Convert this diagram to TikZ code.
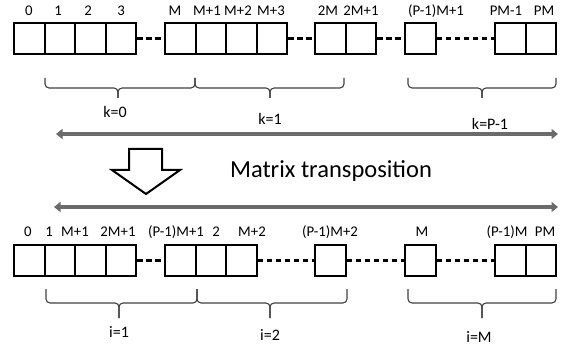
\documentclass[tikz,border=0pt]{standalone}
\usepackage{fontspec}
\setmainfont{Carlito}
\usetikzlibrary{arrows.meta}
\begin{document}
\begin{tikzpicture}[x=1pt,y=-1pt,
  cell/.style={draw,line width=2pt,minimum width=30.5pt,minimum height=31pt,inner sep=0pt},
  lbl/.style={font=\fontsize{14.8}{17}\selectfont,inner sep=0pt},
  klbl/.style={font=\fontsize{16}{18}\selectfont,inner sep=0pt},
  dashline/.style={line width=2.6pt,dash pattern=on 5.5pt off 3.5pt},
  bracestyle/.style={line width=1.1pt,draw=black!75,rounded corners=4pt},
  bigarrow/.style={line width=3.5pt,draw=black!58,{Triangle[length=6.5pt,width=10pt]}-{Triangle[length=6.5pt,width=10pt]}},
  hollow/.style={draw,line width=2pt,fill=white,line join=miter}
]
\useasboundingbox (0,0) rectangle (569,347);

% ---------- top row ----------
\node[cell] (t1) at (29.25,38.5) {};
\node[cell] (t2) at (59.75,38.5) {};
\node[cell] (t3) at (90.25,38.5) {};
\node[cell] (t4) at (120.75,38.5) {};
\node[cell] (t5) at (180.25,38.5) {};
\node[cell] (t6) at (210.75,38.5) {};
\node[cell] (t7) at (241.25,38.5) {};
\node[cell] (t8) at (271.75,38.5) {};
\node[cell] (t9) at (330.25,38.5) {};
\node[cell] (t10) at (360.75,38.5) {};
\node[cell] (t11) at (420.25,38.5) {};
\node[cell] (t12) at (510.25,38.5) {};
\node[cell] (t13) at (540.75,38.5) {};
\draw[dashline] (t4.east) -- (t5.west);
\draw[dashline] (t8.east) -- (t9.west);
\draw[dashline] (t10.east) -- (t11.west);
\draw[dashline] (t11.east) -- (t12.west);

\node[lbl] (lt1) at (29,11) {0};
\node[lbl] (lt2) at (58,11) {1};
\node[lbl] (lt3) at (88,11) {2};
\node[lbl] (lt4) at (121,11) {3};
\node[lbl] (lt5) at (175,11) {M};
\node[lbl] (lt6) at (207,11) {M+1};
\node[lbl] (lt7) at (238,11) {M+2};
\node[lbl] (lt8) at (271,11) {M+3};
\node[lbl] (lt9) at (328,11) {2M};
\node[lbl] (lt10) at (361,11) {2M+1};
\node[lbl] (lt11) at (436,11) {(P-1)M+1};
\node[lbl] (lt12) at (506,11) {PM-1};
\node[lbl] (lt13) at (544,11) {PM};

% top braces
\draw[bracestyle] (45,78) -- (45,88) -- (118,88) -- (118,98);
\draw[bracestyle] (195,78) -- (195,88) -- (118,88) -- (118,98);
\draw[bracestyle] (195,78) -- (195,88) -- (270,88) -- (270,98);
\draw[bracestyle] (344,78) -- (344,88) -- (270,88) -- (270,98);
\draw[bracestyle] (408,78) -- (408,88) -- (482,88) -- (482,98);
\draw[bracestyle] (556,78) -- (556,88) -- (482,88) -- (482,98);
\node[klbl] (k0) at (115,112) {k=0};
\node[klbl] (k1) at (270,119) {k=1};
\node[klbl] (kp) at (490,124) {k=P-1};

% top arrow
\coordinate (a1l) at (56,134);
\coordinate (a1r) at (558,134);
\draw[bigarrow] (a1l) -- (a1r);

% hollow arrow and title
\draw[hollow] (129,149) -- (162,149) -- (162,170) -- (180,170) -- (146,194) -- (112,170) -- (129,170) -- cycle;
\node[font=\fontsize{24.5}{27}\selectfont,inner sep=0pt] (title) at (331,171) {Matrix transposition};

% lower arrow
\coordinate (a2l) at (54,207);
\coordinate (a2r) at (558,207);
\draw[bigarrow] (a2l) -- (a2r);

% ---------- bottom row ----------
\node[cell] (b1) at (29.25,260.5) {};
\node[cell] (b2) at (59.75,260.5) {};
\node[cell] (b3) at (90.25,260.5) {};
\node[cell] (b4) at (120.75,260.5) {};
\node[cell] (b5) at (180.25,260.5) {};
\node[cell] (b6) at (210.75,260.5) {};
\node[cell] (b7) at (241.25,260.5) {};
\node[cell] (b8) at (330.25,260.5) {};
\node[cell] (b9) at (420.25,260.5) {};
\node[cell] (b10) at (510.25,260.5) {};
\node[cell] (b11) at (540.75,260.5) {};
\draw[dashline] (b4.east) -- (b5.west);
\draw[dashline] (b7.east) -- (b8.west);
\draw[dashline] (b8.east) -- (b9.west);
\draw[dashline] (b9.east) -- (b10.west);

\node[lbl] (lb1) at (28,232) {0};
\node[lbl] (lb2) at (49,232) {1};
\node[lbl] (lb3) at (75,232) {M+1};
\node[lbl] (lb4) at (118,232) {2M+1};
\node[lbl] (lb5) at (176,232) {(P-1)M+1};
\node[lbl] (lb6) at (216,232) {2};
\node[lbl] (lb7) at (252,232) {M+2};
\node[lbl] (lb8) at (330,232) {(P-1)M+2};
\node[lbl] (lb9) at (422,232) {M};
\node[lbl] (lb10) at (507,232) {(P-1)M};
\node[lbl] (lb11) at (545,232) {PM};

% bottom braces
\draw[bracestyle] (46,289) -- (46,303) -- (119,303) -- (119,318);
\draw[bracestyle] (197,289) -- (197,303) -- (119,303) -- (119,318);
\draw[bracestyle] (197,289) -- (197,303) -- (270,303) -- (270,318);
\draw[bracestyle] (347,289) -- (347,303) -- (270,303) -- (270,318);
\draw[bracestyle] (408,289) -- (408,303) -- (482,303) -- (482,318);
\draw[bracestyle] (556,289) -- (556,303) -- (482,303) -- (482,318);
\node[klbl] (i1) at (119,332) {i=1};
\node[klbl] (i2) at (270,335) {i=2};
\node[klbl] (iM) at (479,337) {i=M};
\end{tikzpicture}
\end{document}
